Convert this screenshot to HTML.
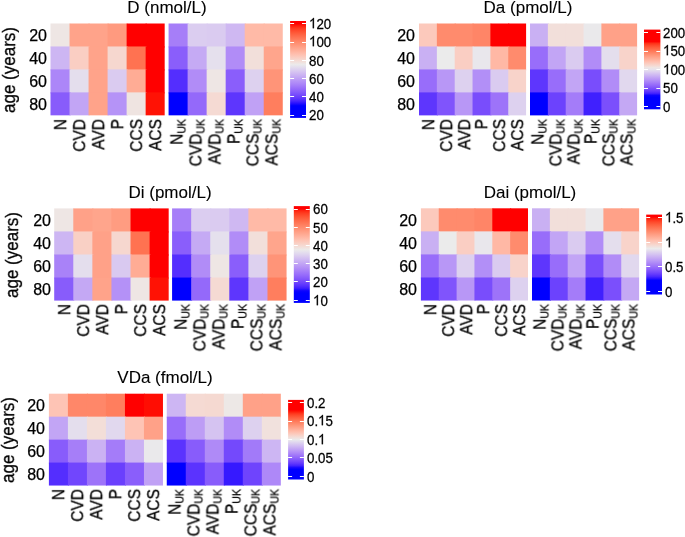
<!DOCTYPE html>
<html><head><meta charset="utf-8"><style>
html,body{margin:0;padding:0;background:#fff;}
body{width:685px;height:537px;position:relative;overflow:hidden;font-family:"Liberation Sans",sans-serif;color:#000;}
svg.main{position:absolute;left:0;top:0;}
.ti,.yt,.ya,.xl,.lg{position:absolute;white-space:nowrap;line-height:1;will-change:transform;-webkit-text-stroke:0.25px #000;}
.ti{font-size:17px;-webkit-text-stroke:0.1px #000;transform:translate(-50%,-0.845em);}
.yt{font-size:16px;transform:translate(-100%,-50%);}
.ya{font-size:17px;transform-origin:0 0;transform:rotate(-90deg) scale(1,1.1) translate(-50%,-0.845em);}
.xl{font-size:15.5px;transform-origin:0 0;transform:rotate(-90deg) scale(1,1.12) translate(-100%,-50%);}
.xs{transform:rotate(-90deg) scale(1,1.12) translate(-100%,-60%);}
.sb{font-size:0.68em;position:relative;top:3px;}
.one{width:0.556em;height:0.716em;vertical-align:baseline;overflow:visible;}
.one path{fill:#000;stroke:#000;stroke-width:19;}
.lg{font-size:13.3px;transform:translate(0,-50%) scale(1,1.08);}
</style></head><body>
<svg class="main" width="685" height="537" viewBox="0 0 685 537">
<rect x="50.5" y="23.5" width="20.03" height="23.96" fill="#eee6e4"/>
<rect x="69.53" y="23.5" width="20.03" height="23.96" fill="#ffa38a"/>
<rect x="88.56" y="23.5" width="20.03" height="23.96" fill="#ffa38a"/>
<rect x="107.59" y="23.5" width="20.03" height="23.96" fill="#ff9a7f"/>
<rect x="126.62" y="23.5" width="20.03" height="23.96" fill="#ff0000"/>
<rect x="145.65" y="23.5" width="19.03" height="23.96" fill="#ff0000"/>
<rect x="168.58" y="23.5" width="20.03" height="23.96" fill="#a67ef8"/>
<rect x="187.61" y="23.5" width="20.03" height="23.96" fill="#dbcdf0"/>
<rect x="206.64" y="23.5" width="20.03" height="23.96" fill="#dacbf0"/>
<rect x="225.67" y="23.5" width="20.03" height="23.96" fill="#cfb8f2"/>
<rect x="244.7" y="23.5" width="20.03" height="23.96" fill="#ffbaa7"/>
<rect x="263.73" y="23.5" width="19.03" height="23.96" fill="#ffbaa7"/>
<rect x="50.5" y="46.46" width="20.03" height="23.96" fill="#cdb6f3"/>
<rect x="69.53" y="46.46" width="20.03" height="23.96" fill="#facec3"/>
<rect x="88.56" y="46.46" width="20.03" height="23.96" fill="#ffa38a"/>
<rect x="107.59" y="46.46" width="20.03" height="23.96" fill="#f6d7cf"/>
<rect x="126.62" y="46.46" width="20.03" height="23.96" fill="#ff7251"/>
<rect x="145.65" y="46.46" width="19.03" height="23.96" fill="#ff0000"/>
<rect x="168.58" y="46.46" width="20.03" height="23.96" fill="#8a5efb"/>
<rect x="187.61" y="46.46" width="20.03" height="23.96" fill="#c5aaf4"/>
<rect x="206.64" y="46.46" width="20.03" height="23.96" fill="#e5e0ed"/>
<rect x="225.67" y="46.46" width="20.03" height="23.96" fill="#b18cf7"/>
<rect x="244.7" y="46.46" width="20.03" height="23.96" fill="#f2dfda"/>
<rect x="263.73" y="46.46" width="19.03" height="23.96" fill="#ffa58c"/>
<rect x="50.5" y="69.42" width="20.03" height="23.96" fill="#ac86f8"/>
<rect x="69.53" y="69.42" width="20.03" height="23.96" fill="#e4deed"/>
<rect x="88.56" y="69.42" width="20.03" height="23.96" fill="#ffa38a"/>
<rect x="107.59" y="69.42" width="20.03" height="23.96" fill="#dacbf0"/>
<rect x="126.62" y="69.42" width="20.03" height="23.96" fill="#ffac95"/>
<rect x="145.65" y="69.42" width="19.03" height="23.96" fill="#ff0000"/>
<rect x="168.58" y="69.42" width="20.03" height="23.96" fill="#542efe"/>
<rect x="187.61" y="69.42" width="20.03" height="23.96" fill="#b18cf7"/>
<rect x="206.64" y="69.42" width="20.03" height="23.96" fill="#eee6e4"/>
<rect x="225.67" y="69.42" width="20.03" height="23.96" fill="#8a5efb"/>
<rect x="244.7" y="69.42" width="20.03" height="23.96" fill="#ddd1ef"/>
<rect x="263.73" y="69.42" width="19.03" height="23.96" fill="#ff9478"/>
<rect x="50.5" y="92.38" width="20.03" height="22.96" fill="#885cfb"/>
<rect x="69.53" y="92.38" width="20.03" height="22.96" fill="#c2a5f5"/>
<rect x="88.56" y="92.38" width="20.03" height="22.96" fill="#ffa38a"/>
<rect x="107.59" y="92.38" width="20.03" height="22.96" fill="#b593f7"/>
<rect x="126.62" y="92.38" width="20.03" height="22.96" fill="#efe4e1"/>
<rect x="145.65" y="92.38" width="19.03" height="22.96" fill="#ff1205"/>
<rect x="168.58" y="92.38" width="20.03" height="22.96" fill="#0000ff"/>
<rect x="187.61" y="92.38" width="20.03" height="22.96" fill="#9469fa"/>
<rect x="206.64" y="92.38" width="20.03" height="22.96" fill="#f5dad3"/>
<rect x="225.67" y="92.38" width="20.03" height="22.96" fill="#5e36fd"/>
<rect x="244.7" y="92.38" width="20.03" height="22.96" fill="#c0a1f5"/>
<rect x="263.73" y="92.38" width="19.03" height="22.96" fill="#ff7e5e"/>
<linearGradient id="gD" x1="0" y1="0" x2="0" y2="1"><stop offset="0.000" stop-color="#ff0000"/><stop offset="0.025" stop-color="#ff0000"/><stop offset="0.050" stop-color="#ff1f0d"/><stop offset="0.075" stop-color="#ff391e"/><stop offset="0.100" stop-color="#ff4b2d"/><stop offset="0.125" stop-color="#ff5b3a"/><stop offset="0.150" stop-color="#ff6848"/><stop offset="0.175" stop-color="#ff7555"/><stop offset="0.200" stop-color="#ff8162"/><stop offset="0.225" stop-color="#ff8d6f"/><stop offset="0.250" stop-color="#ff987c"/><stop offset="0.275" stop-color="#ffa38a"/><stop offset="0.300" stop-color="#ffad97"/><stop offset="0.325" stop-color="#ffb8a5"/><stop offset="0.350" stop-color="#fec2b3"/><stop offset="0.375" stop-color="#facdc1"/><stop offset="0.400" stop-color="#f6d7cf"/><stop offset="0.425" stop-color="#f1e1dd"/><stop offset="0.450" stop-color="#ebeaeb"/><stop offset="0.475" stop-color="#e4deed"/><stop offset="0.500" stop-color="#ddd1ef"/><stop offset="0.525" stop-color="#d6c4f1"/><stop offset="0.550" stop-color="#ceb7f2"/><stop offset="0.575" stop-color="#c6abf4"/><stop offset="0.600" stop-color="#bd9ef5"/><stop offset="0.625" stop-color="#b491f7"/><stop offset="0.650" stop-color="#ab85f8"/><stop offset="0.675" stop-color="#a178f9"/><stop offset="0.700" stop-color="#966bfa"/><stop offset="0.725" stop-color="#8a5ffb"/><stop offset="0.750" stop-color="#7d52fc"/><stop offset="0.775" stop-color="#6f44fd"/><stop offset="0.800" stop-color="#5e36fd"/><stop offset="0.825" stop-color="#4826fe"/><stop offset="0.850" stop-color="#2710ff"/><stop offset="0.875" stop-color="#0000ff"/><stop offset="0.900" stop-color="#0000ff"/><stop offset="0.925" stop-color="#0000ff"/><stop offset="0.950" stop-color="#0000ff"/><stop offset="0.975" stop-color="#0000ff"/><stop offset="1.000" stop-color="#0000ff"/></linearGradient>
<rect x="290.1" y="21" width="15.9" height="96.9" fill="url(#gD)"/>
<line x1="290.1" y1="23.5" x2="294.1" y2="23.5" stroke="#fff" stroke-width="1"/>
<line x1="302" y1="23.5" x2="306" y2="23.5" stroke="#fff" stroke-width="1"/>
<line x1="290.1" y1="42.5" x2="294.1" y2="42.5" stroke="#fff" stroke-width="1"/>
<line x1="302" y1="42.5" x2="306" y2="42.5" stroke="#fff" stroke-width="1"/>
<line x1="290.1" y1="60.5" x2="294.1" y2="60.5" stroke="#fff" stroke-width="1"/>
<line x1="302" y1="60.5" x2="306" y2="60.5" stroke="#fff" stroke-width="1"/>
<line x1="290.1" y1="78.5" x2="294.1" y2="78.5" stroke="#fff" stroke-width="1"/>
<line x1="302" y1="78.5" x2="306" y2="78.5" stroke="#fff" stroke-width="1"/>
<line x1="290.1" y1="96.5" x2="294.1" y2="96.5" stroke="#fff" stroke-width="1"/>
<line x1="302" y1="96.5" x2="306" y2="96.5" stroke="#fff" stroke-width="1"/>
<line x1="290.1" y1="115.5" x2="294.1" y2="115.5" stroke="#fff" stroke-width="1"/>
<line x1="302" y1="115.5" x2="306" y2="115.5" stroke="#fff" stroke-width="1"/>
<rect x="419" y="23.5" width="18.85" height="23.97" fill="#fcc9bc"/>
<rect x="436.85" y="23.5" width="18.85" height="23.97" fill="#ff8b6d"/>
<rect x="454.7" y="23.5" width="18.85" height="23.97" fill="#ff8b6d"/>
<rect x="472.55" y="23.5" width="18.85" height="23.97" fill="#ff8567"/>
<rect x="490.4" y="23.5" width="18.85" height="23.97" fill="#ff0000"/>
<rect x="508.25" y="23.5" width="17.85" height="23.97" fill="#ff0000"/>
<rect x="530" y="23.5" width="18.85" height="23.97" fill="#c9b0f3"/>
<rect x="547.85" y="23.5" width="18.85" height="23.97" fill="#f2dfda"/>
<rect x="565.7" y="23.5" width="18.85" height="23.97" fill="#f2dfda"/>
<rect x="583.55" y="23.5" width="18.85" height="23.97" fill="#eae9eb"/>
<rect x="601.4" y="23.5" width="18.85" height="23.97" fill="#ffa188"/>
<rect x="619.25" y="23.5" width="17.85" height="23.97" fill="#ffa188"/>
<rect x="419" y="46.47" width="18.85" height="23.97" fill="#c9b0f3"/>
<rect x="436.85" y="46.47" width="18.85" height="23.97" fill="#ebebeb"/>
<rect x="454.7" y="46.47" width="18.85" height="23.97" fill="#facec3"/>
<rect x="472.55" y="46.47" width="18.85" height="23.97" fill="#e9e7ec"/>
<rect x="490.4" y="46.47" width="18.85" height="23.97" fill="#ffb8a5"/>
<rect x="508.25" y="46.47" width="17.85" height="23.97" fill="#ff8b6d"/>
<rect x="530" y="46.47" width="18.85" height="23.97" fill="#986dfa"/>
<rect x="547.85" y="46.47" width="18.85" height="23.97" fill="#c2a5f5"/>
<rect x="565.7" y="46.47" width="18.85" height="23.97" fill="#dacbf0"/>
<rect x="583.55" y="46.47" width="18.85" height="23.97" fill="#b18cf7"/>
<rect x="601.4" y="46.47" width="18.85" height="23.97" fill="#e4deed"/>
<rect x="619.25" y="46.47" width="17.85" height="23.97" fill="#f8d3ca"/>
<rect x="419" y="69.44" width="18.85" height="23.97" fill="#986dfa"/>
<rect x="436.85" y="69.44" width="18.85" height="23.97" fill="#b897f6"/>
<rect x="454.7" y="69.44" width="18.85" height="23.97" fill="#ddd1ef"/>
<rect x="472.55" y="69.44" width="18.85" height="23.97" fill="#b28ff7"/>
<rect x="490.4" y="69.44" width="18.85" height="23.97" fill="#dacbf0"/>
<rect x="508.25" y="69.44" width="17.85" height="23.97" fill="#f8d3ca"/>
<rect x="530" y="69.44" width="18.85" height="23.97" fill="#5e36fd"/>
<rect x="547.85" y="69.44" width="18.85" height="23.97" fill="#986dfa"/>
<rect x="565.7" y="69.44" width="18.85" height="23.97" fill="#c2a5f5"/>
<rect x="583.55" y="69.44" width="18.85" height="23.97" fill="#794dfc"/>
<rect x="601.4" y="69.44" width="18.85" height="23.97" fill="#b18cf7"/>
<rect x="619.25" y="69.44" width="17.85" height="23.97" fill="#e1d8ee"/>
<rect x="419" y="92.41" width="18.85" height="22.97" fill="#5e36fd"/>
<rect x="436.85" y="92.41" width="18.85" height="22.97" fill="#8054fc"/>
<rect x="454.7" y="92.41" width="18.85" height="22.97" fill="#b897f6"/>
<rect x="472.55" y="92.41" width="18.85" height="22.97" fill="#794dfc"/>
<rect x="490.4" y="92.41" width="18.85" height="22.97" fill="#9d73f9"/>
<rect x="508.25" y="92.41" width="17.85" height="22.97" fill="#ddd1ef"/>
<rect x="530" y="92.41" width="18.85" height="22.97" fill="#0000ff"/>
<rect x="547.85" y="92.41" width="18.85" height="22.97" fill="#6c42fd"/>
<rect x="565.7" y="92.41" width="18.85" height="22.97" fill="#a47cf9"/>
<rect x="583.55" y="92.41" width="18.85" height="22.97" fill="#4020fe"/>
<rect x="601.4" y="92.41" width="18.85" height="22.97" fill="#7b4ffc"/>
<rect x="619.25" y="92.41" width="17.85" height="22.97" fill="#c4a8f4"/>
<linearGradient id="gDa" x1="0" y1="0" x2="0" y2="1"><stop offset="0.000" stop-color="#ff0000"/><stop offset="0.025" stop-color="#ff0000"/><stop offset="0.050" stop-color="#ff0000"/><stop offset="0.075" stop-color="#ff0000"/><stop offset="0.100" stop-color="#ff0000"/><stop offset="0.125" stop-color="#ff0000"/><stop offset="0.150" stop-color="#ff0301"/><stop offset="0.175" stop-color="#ff3319"/><stop offset="0.200" stop-color="#ff4a2c"/><stop offset="0.225" stop-color="#ff5d3c"/><stop offset="0.250" stop-color="#ff6d4c"/><stop offset="0.275" stop-color="#ff7c5c"/><stop offset="0.300" stop-color="#ff8a6c"/><stop offset="0.325" stop-color="#ff987c"/><stop offset="0.350" stop-color="#ffa58d"/><stop offset="0.375" stop-color="#ffb29d"/><stop offset="0.400" stop-color="#ffbfae"/><stop offset="0.425" stop-color="#fbccbf"/><stop offset="0.450" stop-color="#f6d8d0"/><stop offset="0.475" stop-color="#efe5e2"/><stop offset="0.500" stop-color="#e7e3ec"/><stop offset="0.525" stop-color="#dfd4ef"/><stop offset="0.550" stop-color="#d6c4f1"/><stop offset="0.575" stop-color="#ccb5f3"/><stop offset="0.600" stop-color="#c2a5f5"/><stop offset="0.625" stop-color="#b896f6"/><stop offset="0.650" stop-color="#ac87f8"/><stop offset="0.675" stop-color="#a077f9"/><stop offset="0.700" stop-color="#9368fa"/><stop offset="0.725" stop-color="#8458fb"/><stop offset="0.750" stop-color="#7348fc"/><stop offset="0.775" stop-color="#5f37fd"/><stop offset="0.800" stop-color="#4423fe"/><stop offset="0.825" stop-color="#0d03ff"/><stop offset="0.850" stop-color="#0000ff"/><stop offset="0.875" stop-color="#0000ff"/><stop offset="0.900" stop-color="#0000ff"/><stop offset="0.925" stop-color="#0000ff"/><stop offset="0.950" stop-color="#0000ff"/><stop offset="0.975" stop-color="#0000ff"/><stop offset="1.000" stop-color="#0000ff"/></linearGradient>
<rect x="644" y="29.6" width="16.4" height="79.7" fill="url(#gDa)"/>
<line x1="644" y1="32.5" x2="648" y2="32.5" stroke="#fff" stroke-width="1"/>
<line x1="656.4" y1="32.5" x2="660.4" y2="32.5" stroke="#fff" stroke-width="1"/>
<line x1="644" y1="51.5" x2="648" y2="51.5" stroke="#fff" stroke-width="1"/>
<line x1="656.4" y1="51.5" x2="660.4" y2="51.5" stroke="#fff" stroke-width="1"/>
<line x1="644" y1="69.5" x2="648" y2="69.5" stroke="#fff" stroke-width="1"/>
<line x1="656.4" y1="69.5" x2="660.4" y2="69.5" stroke="#fff" stroke-width="1"/>
<line x1="644" y1="88.5" x2="648" y2="88.5" stroke="#fff" stroke-width="1"/>
<line x1="656.4" y1="88.5" x2="660.4" y2="88.5" stroke="#fff" stroke-width="1"/>
<line x1="644" y1="106.5" x2="648" y2="106.5" stroke="#fff" stroke-width="1"/>
<line x1="656.4" y1="106.5" x2="660.4" y2="106.5" stroke="#fff" stroke-width="1"/>
<rect x="54.2" y="208.4" width="20.08" height="24.05" fill="#eee6e4"/>
<rect x="73.28" y="208.4" width="20.08" height="24.05" fill="#ffa188"/>
<rect x="92.36" y="208.4" width="20.08" height="24.05" fill="#ffa58c"/>
<rect x="111.44" y="208.4" width="20.08" height="24.05" fill="#ff9c81"/>
<rect x="130.52" y="208.4" width="20.08" height="24.05" fill="#ff0000"/>
<rect x="149.6" y="208.4" width="19.08" height="24.05" fill="#ff0000"/>
<rect x="172.08" y="208.4" width="20.08" height="24.05" fill="#a67ef8"/>
<rect x="191.16" y="208.4" width="20.08" height="24.05" fill="#dbcdf0"/>
<rect x="210.24" y="208.4" width="20.08" height="24.05" fill="#dacbf0"/>
<rect x="229.32" y="208.4" width="20.08" height="24.05" fill="#cfb8f2"/>
<rect x="248.4" y="208.4" width="20.08" height="24.05" fill="#ffbaa7"/>
<rect x="267.48" y="208.4" width="19.08" height="24.05" fill="#ffbaa7"/>
<rect x="54.2" y="231.45" width="20.08" height="24.05" fill="#cdb6f3"/>
<rect x="73.28" y="231.45" width="20.08" height="24.05" fill="#f9d0c5"/>
<rect x="92.36" y="231.45" width="20.08" height="24.05" fill="#ffa188"/>
<rect x="111.44" y="231.45" width="20.08" height="24.05" fill="#f6d7cf"/>
<rect x="130.52" y="231.45" width="20.08" height="24.05" fill="#ff7251"/>
<rect x="149.6" y="231.45" width="19.08" height="24.05" fill="#ff0000"/>
<rect x="172.08" y="231.45" width="20.08" height="24.05" fill="#8a5efb"/>
<rect x="191.16" y="231.45" width="20.08" height="24.05" fill="#c5aaf4"/>
<rect x="210.24" y="231.45" width="20.08" height="24.05" fill="#e5e0ed"/>
<rect x="229.32" y="231.45" width="20.08" height="24.05" fill="#b18cf7"/>
<rect x="248.4" y="231.45" width="20.08" height="24.05" fill="#f2dfda"/>
<rect x="267.48" y="231.45" width="19.08" height="24.05" fill="#ffa58c"/>
<rect x="54.2" y="254.5" width="20.08" height="24.05" fill="#a982f8"/>
<rect x="73.28" y="254.5" width="20.08" height="24.05" fill="#e4deed"/>
<rect x="92.36" y="254.5" width="20.08" height="24.05" fill="#ffa188"/>
<rect x="111.44" y="254.5" width="20.08" height="24.05" fill="#d9c9f0"/>
<rect x="130.52" y="254.5" width="20.08" height="24.05" fill="#ffac95"/>
<rect x="149.6" y="254.5" width="19.08" height="24.05" fill="#ff0000"/>
<rect x="172.08" y="254.5" width="20.08" height="24.05" fill="#542efe"/>
<rect x="191.16" y="254.5" width="20.08" height="24.05" fill="#b18cf7"/>
<rect x="210.24" y="254.5" width="20.08" height="24.05" fill="#eee6e4"/>
<rect x="229.32" y="254.5" width="20.08" height="24.05" fill="#8a5efb"/>
<rect x="248.4" y="254.5" width="20.08" height="24.05" fill="#ddd1ef"/>
<rect x="267.48" y="254.5" width="19.08" height="24.05" fill="#ff9478"/>
<rect x="54.2" y="277.55" width="20.08" height="23.05" fill="#885cfb"/>
<rect x="73.28" y="277.55" width="20.08" height="23.05" fill="#c4a8f4"/>
<rect x="92.36" y="277.55" width="20.08" height="23.05" fill="#ffa38a"/>
<rect x="111.44" y="277.55" width="20.08" height="23.05" fill="#b491f7"/>
<rect x="130.52" y="277.55" width="20.08" height="23.05" fill="#eee6e4"/>
<rect x="149.6" y="277.55" width="19.08" height="23.05" fill="#ff1205"/>
<rect x="172.08" y="277.55" width="20.08" height="23.05" fill="#0000ff"/>
<rect x="191.16" y="277.55" width="20.08" height="23.05" fill="#9469fa"/>
<rect x="210.24" y="277.55" width="20.08" height="23.05" fill="#f5dad3"/>
<rect x="229.32" y="277.55" width="20.08" height="23.05" fill="#5e36fd"/>
<rect x="248.4" y="277.55" width="20.08" height="23.05" fill="#c0a1f5"/>
<rect x="267.48" y="277.55" width="19.08" height="23.05" fill="#ff7e5e"/>
<linearGradient id="gDi" x1="0" y1="0" x2="0" y2="1"><stop offset="0.000" stop-color="#ff0000"/><stop offset="0.025" stop-color="#ff0000"/><stop offset="0.050" stop-color="#ff2711"/><stop offset="0.075" stop-color="#ff3d21"/><stop offset="0.100" stop-color="#ff4e2f"/><stop offset="0.125" stop-color="#ff5d3c"/><stop offset="0.150" stop-color="#ff6a49"/><stop offset="0.175" stop-color="#ff7656"/><stop offset="0.200" stop-color="#ff8263"/><stop offset="0.225" stop-color="#ff8d70"/><stop offset="0.250" stop-color="#ff987d"/><stop offset="0.275" stop-color="#ffa38a"/><stop offset="0.300" stop-color="#ffad97"/><stop offset="0.325" stop-color="#ffb7a4"/><stop offset="0.350" stop-color="#fec2b2"/><stop offset="0.375" stop-color="#fbccbf"/><stop offset="0.400" stop-color="#f7d6cd"/><stop offset="0.425" stop-color="#f2e0db"/><stop offset="0.450" stop-color="#eceae9"/><stop offset="0.475" stop-color="#e5e0ed"/><stop offset="0.500" stop-color="#dfd4ef"/><stop offset="0.525" stop-color="#d8c7f0"/><stop offset="0.550" stop-color="#d0bbf2"/><stop offset="0.575" stop-color="#c8aef3"/><stop offset="0.600" stop-color="#c0a2f5"/><stop offset="0.625" stop-color="#b896f6"/><stop offset="0.650" stop-color="#af8af7"/><stop offset="0.675" stop-color="#a57df9"/><stop offset="0.700" stop-color="#9b71fa"/><stop offset="0.725" stop-color="#9065fb"/><stop offset="0.750" stop-color="#8458fb"/><stop offset="0.775" stop-color="#774bfc"/><stop offset="0.800" stop-color="#673efd"/><stop offset="0.825" stop-color="#552ffe"/><stop offset="0.850" stop-color="#3d1efe"/><stop offset="0.875" stop-color="#0c03ff"/><stop offset="0.900" stop-color="#0000ff"/><stop offset="0.925" stop-color="#0000ff"/><stop offset="0.950" stop-color="#0000ff"/><stop offset="0.975" stop-color="#0000ff"/><stop offset="1.000" stop-color="#0000ff"/></linearGradient>
<rect x="293.8" y="206.1" width="16" height="96.8" fill="url(#gDi)"/>
<line x1="293.8" y1="209.5" x2="297.8" y2="209.5" stroke="#fff" stroke-width="1"/>
<line x1="305.8" y1="209.5" x2="309.8" y2="209.5" stroke="#fff" stroke-width="1"/>
<line x1="293.8" y1="227.5" x2="297.8" y2="227.5" stroke="#fff" stroke-width="1"/>
<line x1="305.8" y1="227.5" x2="309.8" y2="227.5" stroke="#fff" stroke-width="1"/>
<line x1="293.8" y1="245.5" x2="297.8" y2="245.5" stroke="#fff" stroke-width="1"/>
<line x1="305.8" y1="245.5" x2="309.8" y2="245.5" stroke="#fff" stroke-width="1"/>
<line x1="293.8" y1="263.5" x2="297.8" y2="263.5" stroke="#fff" stroke-width="1"/>
<line x1="305.8" y1="263.5" x2="309.8" y2="263.5" stroke="#fff" stroke-width="1"/>
<line x1="293.8" y1="281.5" x2="297.8" y2="281.5" stroke="#fff" stroke-width="1"/>
<line x1="305.8" y1="281.5" x2="309.8" y2="281.5" stroke="#fff" stroke-width="1"/>
<line x1="293.8" y1="300.5" x2="297.8" y2="300.5" stroke="#fff" stroke-width="1"/>
<line x1="305.8" y1="300.5" x2="309.8" y2="300.5" stroke="#fff" stroke-width="1"/>
<rect x="420.9" y="208.3" width="18.85" height="24.06" fill="#fcc9bc"/>
<rect x="438.75" y="208.3" width="18.85" height="24.06" fill="#ff8b6d"/>
<rect x="456.6" y="208.3" width="18.85" height="24.06" fill="#ff8b6d"/>
<rect x="474.45" y="208.3" width="18.85" height="24.06" fill="#ff8567"/>
<rect x="492.3" y="208.3" width="18.85" height="24.06" fill="#ff0000"/>
<rect x="510.15" y="208.3" width="17.85" height="24.06" fill="#ff0000"/>
<rect x="532" y="208.3" width="18.85" height="24.06" fill="#c9b0f3"/>
<rect x="549.85" y="208.3" width="18.85" height="24.06" fill="#f2dfda"/>
<rect x="567.7" y="208.3" width="18.85" height="24.06" fill="#f2dfda"/>
<rect x="585.55" y="208.3" width="18.85" height="24.06" fill="#eae9eb"/>
<rect x="603.4" y="208.3" width="18.85" height="24.06" fill="#ffa188"/>
<rect x="621.25" y="208.3" width="17.85" height="24.06" fill="#ffa188"/>
<rect x="420.9" y="231.36" width="18.85" height="24.06" fill="#c9b0f3"/>
<rect x="438.75" y="231.36" width="18.85" height="24.06" fill="#ebebeb"/>
<rect x="456.6" y="231.36" width="18.85" height="24.06" fill="#facec3"/>
<rect x="474.45" y="231.36" width="18.85" height="24.06" fill="#e9e7ec"/>
<rect x="492.3" y="231.36" width="18.85" height="24.06" fill="#ffb8a5"/>
<rect x="510.15" y="231.36" width="17.85" height="24.06" fill="#ff8b6d"/>
<rect x="532" y="231.36" width="18.85" height="24.06" fill="#986dfa"/>
<rect x="549.85" y="231.36" width="18.85" height="24.06" fill="#c2a5f5"/>
<rect x="567.7" y="231.36" width="18.85" height="24.06" fill="#dacbf0"/>
<rect x="585.55" y="231.36" width="18.85" height="24.06" fill="#b18cf7"/>
<rect x="603.4" y="231.36" width="18.85" height="24.06" fill="#e4deed"/>
<rect x="621.25" y="231.36" width="17.85" height="24.06" fill="#f8d3ca"/>
<rect x="420.9" y="254.42" width="18.85" height="24.06" fill="#986dfa"/>
<rect x="438.75" y="254.42" width="18.85" height="24.06" fill="#b897f6"/>
<rect x="456.6" y="254.42" width="18.85" height="24.06" fill="#ddd1ef"/>
<rect x="474.45" y="254.42" width="18.85" height="24.06" fill="#b28ff7"/>
<rect x="492.3" y="254.42" width="18.85" height="24.06" fill="#dacbf0"/>
<rect x="510.15" y="254.42" width="17.85" height="24.06" fill="#f8d3ca"/>
<rect x="532" y="254.42" width="18.85" height="24.06" fill="#5e36fd"/>
<rect x="549.85" y="254.42" width="18.85" height="24.06" fill="#986dfa"/>
<rect x="567.7" y="254.42" width="18.85" height="24.06" fill="#c2a5f5"/>
<rect x="585.55" y="254.42" width="18.85" height="24.06" fill="#794dfc"/>
<rect x="603.4" y="254.42" width="18.85" height="24.06" fill="#b18cf7"/>
<rect x="621.25" y="254.42" width="17.85" height="24.06" fill="#e1d8ee"/>
<rect x="420.9" y="277.48" width="18.85" height="23.06" fill="#5e36fd"/>
<rect x="438.75" y="277.48" width="18.85" height="23.06" fill="#8054fc"/>
<rect x="456.6" y="277.48" width="18.85" height="23.06" fill="#b897f6"/>
<rect x="474.45" y="277.48" width="18.85" height="23.06" fill="#794dfc"/>
<rect x="492.3" y="277.48" width="18.85" height="23.06" fill="#9d73f9"/>
<rect x="510.15" y="277.48" width="17.85" height="23.06" fill="#ddd1ef"/>
<rect x="532" y="277.48" width="18.85" height="23.06" fill="#0000ff"/>
<rect x="549.85" y="277.48" width="18.85" height="23.06" fill="#6c42fd"/>
<rect x="567.7" y="277.48" width="18.85" height="23.06" fill="#a47cf9"/>
<rect x="585.55" y="277.48" width="18.85" height="23.06" fill="#4020fe"/>
<rect x="603.4" y="277.48" width="18.85" height="23.06" fill="#7b4ffc"/>
<rect x="621.25" y="277.48" width="17.85" height="23.06" fill="#c4a8f4"/>
<linearGradient id="gDai" x1="0" y1="0" x2="0" y2="1"><stop offset="0.000" stop-color="#ff0000"/><stop offset="0.025" stop-color="#ff0000"/><stop offset="0.050" stop-color="#ff200d"/><stop offset="0.075" stop-color="#ff3b20"/><stop offset="0.100" stop-color="#ff4e2f"/><stop offset="0.125" stop-color="#ff5e3d"/><stop offset="0.150" stop-color="#ff6c4b"/><stop offset="0.175" stop-color="#ff7959"/><stop offset="0.200" stop-color="#ff8667"/><stop offset="0.225" stop-color="#ff9275"/><stop offset="0.250" stop-color="#ff9e84"/><stop offset="0.275" stop-color="#ffa992"/><stop offset="0.300" stop-color="#ffb5a0"/><stop offset="0.325" stop-color="#ffc0af"/><stop offset="0.350" stop-color="#fbcbbe"/><stop offset="0.375" stop-color="#f7d6cd"/><stop offset="0.400" stop-color="#f1e0dc"/><stop offset="0.425" stop-color="#ebebeb"/><stop offset="0.450" stop-color="#e4dded"/><stop offset="0.475" stop-color="#dccfef"/><stop offset="0.500" stop-color="#d4c2f1"/><stop offset="0.525" stop-color="#ccb4f3"/><stop offset="0.550" stop-color="#c3a7f4"/><stop offset="0.575" stop-color="#ba99f6"/><stop offset="0.600" stop-color="#b08cf7"/><stop offset="0.625" stop-color="#a67ef8"/><stop offset="0.650" stop-color="#9b71fa"/><stop offset="0.675" stop-color="#8f63fb"/><stop offset="0.700" stop-color="#8256fc"/><stop offset="0.725" stop-color="#7347fc"/><stop offset="0.750" stop-color="#6138fd"/><stop offset="0.775" stop-color="#4b28fe"/><stop offset="0.800" stop-color="#2a12ff"/><stop offset="0.825" stop-color="#0000ff"/><stop offset="0.850" stop-color="#0000ff"/><stop offset="0.875" stop-color="#0000ff"/><stop offset="0.900" stop-color="#0000ff"/><stop offset="0.925" stop-color="#0000ff"/><stop offset="0.950" stop-color="#0000ff"/><stop offset="0.975" stop-color="#0000ff"/><stop offset="1.000" stop-color="#0000ff"/></linearGradient>
<rect x="646.2" y="214.6" width="15.8" height="79.9" fill="url(#gDai)"/>
<line x1="646.2" y1="217.5" x2="650.2" y2="217.5" stroke="#fff" stroke-width="1"/>
<line x1="658" y1="217.5" x2="662" y2="217.5" stroke="#fff" stroke-width="1"/>
<line x1="646.2" y1="242.5" x2="650.2" y2="242.5" stroke="#fff" stroke-width="1"/>
<line x1="658" y1="242.5" x2="662" y2="242.5" stroke="#fff" stroke-width="1"/>
<line x1="646.2" y1="266.5" x2="650.2" y2="266.5" stroke="#fff" stroke-width="1"/>
<line x1="658" y1="266.5" x2="662" y2="266.5" stroke="#fff" stroke-width="1"/>
<line x1="646.2" y1="291.5" x2="650.2" y2="291.5" stroke="#fff" stroke-width="1"/>
<line x1="658" y1="291.5" x2="662" y2="291.5" stroke="#fff" stroke-width="1"/>
<rect x="48.9" y="393.7" width="20.01" height="23.96" fill="#fec4b5"/>
<rect x="67.91" y="393.7" width="20.01" height="23.96" fill="#ff8769"/>
<rect x="86.92" y="393.7" width="20.01" height="23.96" fill="#ff8769"/>
<rect x="105.93" y="393.7" width="20.01" height="23.96" fill="#ff7e5e"/>
<rect x="124.94" y="393.7" width="20.01" height="23.96" fill="#ff0000"/>
<rect x="143.95" y="393.7" width="19.01" height="23.96" fill="#ff0d03"/>
<rect x="166.76" y="393.7" width="20.01" height="23.96" fill="#cdb6f3"/>
<rect x="185.77" y="393.7" width="20.01" height="23.96" fill="#f5dad3"/>
<rect x="204.78" y="393.7" width="20.01" height="23.96" fill="#f5d9d1"/>
<rect x="223.79" y="393.7" width="20.01" height="23.96" fill="#ede8e6"/>
<rect x="242.8" y="393.7" width="20.01" height="23.96" fill="#ffa188"/>
<rect x="261.81" y="393.7" width="19.01" height="23.96" fill="#ffa188"/>
<rect x="48.9" y="416.66" width="20.01" height="23.96" fill="#c2a5f5"/>
<rect x="67.91" y="416.66" width="20.01" height="23.96" fill="#e4deed"/>
<rect x="86.92" y="416.66" width="20.01" height="23.96" fill="#f3ded8"/>
<rect x="105.93" y="416.66" width="20.01" height="23.96" fill="#e1d8ee"/>
<rect x="124.94" y="416.66" width="20.01" height="23.96" fill="#fec4b5"/>
<rect x="143.95" y="416.66" width="19.01" height="23.96" fill="#ffa188"/>
<rect x="166.76" y="416.66" width="20.01" height="23.96" fill="#986dfa"/>
<rect x="185.77" y="416.66" width="20.01" height="23.96" fill="#bd9df5"/>
<rect x="204.78" y="416.66" width="20.01" height="23.96" fill="#d5c3f1"/>
<rect x="223.79" y="416.66" width="20.01" height="23.96" fill="#b18cf7"/>
<rect x="242.8" y="416.66" width="20.01" height="23.96" fill="#ddd1ef"/>
<rect x="261.81" y="416.66" width="19.01" height="23.96" fill="#f1e1dd"/>
<rect x="48.9" y="439.62" width="20.01" height="23.96" fill="#885cfb"/>
<rect x="67.91" y="439.62" width="20.01" height="23.96" fill="#a67ef8"/>
<rect x="86.92" y="439.62" width="20.01" height="23.96" fill="#cbb2f3"/>
<rect x="105.93" y="439.62" width="20.01" height="23.96" fill="#a47cf9"/>
<rect x="124.94" y="439.62" width="20.01" height="23.96" fill="#cbb2f3"/>
<rect x="143.95" y="439.62" width="19.01" height="23.96" fill="#eae9eb"/>
<rect x="166.76" y="439.62" width="20.01" height="23.96" fill="#5b33fe"/>
<rect x="185.77" y="439.62" width="20.01" height="23.96" fill="#885cfb"/>
<rect x="204.78" y="439.62" width="20.01" height="23.96" fill="#af8af7"/>
<rect x="223.79" y="439.62" width="20.01" height="23.96" fill="#7449fc"/>
<rect x="242.8" y="439.62" width="20.01" height="23.96" fill="#a27af9"/>
<rect x="261.81" y="439.62" width="19.01" height="23.96" fill="#cdb6f3"/>
<rect x="48.9" y="462.58" width="20.01" height="22.96" fill="#542efe"/>
<rect x="67.91" y="462.58" width="20.01" height="22.96" fill="#7146fd"/>
<rect x="86.92" y="462.58" width="20.01" height="22.96" fill="#9d73f9"/>
<rect x="105.93" y="462.58" width="20.01" height="22.96" fill="#6a3ffd"/>
<rect x="124.94" y="462.58" width="20.01" height="22.96" fill="#8a5efb"/>
<rect x="143.95" y="462.58" width="19.01" height="22.96" fill="#c0a1f5"/>
<rect x="166.76" y="462.58" width="20.01" height="22.96" fill="#0000ff"/>
<rect x="185.77" y="462.58" width="20.01" height="22.96" fill="#5b33fe"/>
<rect x="204.78" y="462.58" width="20.01" height="22.96" fill="#885cfb"/>
<rect x="223.79" y="462.58" width="20.01" height="22.96" fill="#3619ff"/>
<rect x="242.8" y="462.58" width="20.01" height="22.96" fill="#6f44fd"/>
<rect x="261.81" y="462.58" width="19.01" height="22.96" fill="#ae88f8"/>
<linearGradient id="gVDa" x1="0" y1="0" x2="0" y2="1"><stop offset="0.000" stop-color="#ff0000"/><stop offset="0.025" stop-color="#ff0000"/><stop offset="0.050" stop-color="#ff0000"/><stop offset="0.075" stop-color="#ff0000"/><stop offset="0.100" stop-color="#ff0000"/><stop offset="0.125" stop-color="#ff0000"/><stop offset="0.150" stop-color="#ff1d0b"/><stop offset="0.175" stop-color="#ff3b20"/><stop offset="0.200" stop-color="#ff4f30"/><stop offset="0.225" stop-color="#ff6040"/><stop offset="0.250" stop-color="#ff6f4f"/><stop offset="0.275" stop-color="#ff7d5e"/><stop offset="0.300" stop-color="#ff8b6d"/><stop offset="0.325" stop-color="#ff987c"/><stop offset="0.350" stop-color="#ffa48c"/><stop offset="0.375" stop-color="#ffb19c"/><stop offset="0.400" stop-color="#ffbdab"/><stop offset="0.425" stop-color="#fcc9bb"/><stop offset="0.450" stop-color="#f7d5cc"/><stop offset="0.475" stop-color="#f1e0dc"/><stop offset="0.500" stop-color="#eaeaeb"/><stop offset="0.525" stop-color="#e2dbee"/><stop offset="0.550" stop-color="#daccf0"/><stop offset="0.575" stop-color="#d2bdf2"/><stop offset="0.600" stop-color="#c8aff3"/><stop offset="0.625" stop-color="#bfa0f5"/><stop offset="0.650" stop-color="#b591f7"/><stop offset="0.675" stop-color="#aa83f8"/><stop offset="0.700" stop-color="#9e74f9"/><stop offset="0.725" stop-color="#9166fa"/><stop offset="0.750" stop-color="#8357fc"/><stop offset="0.775" stop-color="#7347fc"/><stop offset="0.800" stop-color="#6037fd"/><stop offset="0.825" stop-color="#4725fe"/><stop offset="0.850" stop-color="#1b09ff"/><stop offset="0.875" stop-color="#0000ff"/><stop offset="0.900" stop-color="#0000ff"/><stop offset="0.925" stop-color="#0000ff"/><stop offset="0.950" stop-color="#0000ff"/><stop offset="0.975" stop-color="#0000ff"/><stop offset="1.000" stop-color="#0000ff"/></linearGradient>
<rect x="288.1" y="399.9" width="15.8" height="79.6" fill="url(#gVDa)"/>
<line x1="288.1" y1="402.5" x2="292.1" y2="402.5" stroke="#fff" stroke-width="1"/>
<line x1="299.9" y1="402.5" x2="303.9" y2="402.5" stroke="#fff" stroke-width="1"/>
<line x1="288.1" y1="421.5" x2="292.1" y2="421.5" stroke="#fff" stroke-width="1"/>
<line x1="299.9" y1="421.5" x2="303.9" y2="421.5" stroke="#fff" stroke-width="1"/>
<line x1="288.1" y1="439.5" x2="292.1" y2="439.5" stroke="#fff" stroke-width="1"/>
<line x1="299.9" y1="439.5" x2="303.9" y2="439.5" stroke="#fff" stroke-width="1"/>
<line x1="288.1" y1="457.5" x2="292.1" y2="457.5" stroke="#fff" stroke-width="1"/>
<line x1="299.9" y1="457.5" x2="303.9" y2="457.5" stroke="#fff" stroke-width="1"/>
<line x1="288.1" y1="476.5" x2="292.1" y2="476.5" stroke="#fff" stroke-width="1"/>
<line x1="299.9" y1="476.5" x2="303.9" y2="476.5" stroke="#fff" stroke-width="1"/>
</svg>
<div class="lg" style="left:309px;top:24.2px"><svg class="one" viewBox="0 -716 556 716"><path d="M372 0L284 0L284-561Q252-531 200-500Q148-470 107-455L107-540Q180-574 235-623Q290-672 313-716L372-716Z"/></svg>20</div>
<div class="lg" style="left:309px;top:42.4px"><svg class="one" viewBox="0 -716 556 716"><path d="M372 0L284 0L284-561Q252-531 200-500Q148-470 107-455L107-540Q180-574 235-623Q290-672 313-716L372-716Z"/></svg>00</div>
<div class="lg" style="left:309px;top:60.7px">80</div>
<div class="lg" style="left:309px;top:78.9px">60</div>
<div class="lg" style="left:309px;top:97.2px">40</div>
<div class="lg" style="left:309px;top:115.4px">20</div>
<div class="ti" style="left:166.63px;top:12.7px">D (nmol/L)</div>
<div class="yt" style="left:46.9px;top:35.78px">20</div>
<div class="yt" style="left:46.9px;top:58.74px">40</div>
<div class="yt" style="left:46.9px;top:81.7px">60</div>
<div class="yt" style="left:46.9px;top:104.66px">80</div>
<div class="ya" style="left:15.3px;top:70.22px">age (years)</div>
<div class="xl" style="left:60.02px;top:119px">N</div>
<div class="xl" style="left:79.05px;top:119px">CVD</div>
<div class="xl" style="left:98.08px;top:119px">AVD</div>
<div class="xl" style="left:117.11px;top:119px">P</div>
<div class="xl" style="left:136.13px;top:119px">CCS</div>
<div class="xl" style="left:155.17px;top:119px">ACS</div>
<div class="xl xs" style="left:178.1px;top:119px">N<span class="sb">UK</span></div>
<div class="xl xs" style="left:197.12px;top:119px">CVD<span class="sb">UK</span></div>
<div class="xl xs" style="left:216.16px;top:119px">AVD<span class="sb">UK</span></div>
<div class="xl xs" style="left:235.19px;top:119px">P<span class="sb">UK</span></div>
<div class="xl xs" style="left:254.22px;top:119px">CCS<span class="sb">UK</span></div>
<div class="xl xs" style="left:273.25px;top:119px">ACS<span class="sb">UK</span></div>
<div class="lg" style="left:663.4px;top:32.9px">200</div>
<div class="lg" style="left:663.4px;top:51.4px"><svg class="one" viewBox="0 -716 556 716"><path d="M372 0L284 0L284-561Q252-531 200-500Q148-470 107-455L107-540Q180-574 235-623Q290-672 313-716L372-716Z"/></svg>50</div>
<div class="lg" style="left:663.4px;top:69.9px"><svg class="one" viewBox="0 -716 556 716"><path d="M372 0L284 0L284-561Q252-531 200-500Q148-470 107-455L107-540Q180-574 235-623Q290-672 313-716L372-716Z"/></svg>00</div>
<div class="lg" style="left:663.4px;top:88.4px">50</div>
<div class="lg" style="left:663.4px;top:106.9px">0</div>
<div class="ti" style="left:528.05px;top:12.7px">Da (pmol/L)</div>
<div class="yt" style="left:415.4px;top:35.78px">20</div>
<div class="yt" style="left:415.4px;top:58.75px">40</div>
<div class="yt" style="left:415.4px;top:81.72px">60</div>
<div class="yt" style="left:415.4px;top:104.69px">80</div>
<div class="xl" style="left:427.93px;top:119px">N</div>
<div class="xl" style="left:445.78px;top:119px">CVD</div>
<div class="xl" style="left:463.62px;top:119px">AVD</div>
<div class="xl" style="left:481.48px;top:119px">P</div>
<div class="xl" style="left:499.32px;top:119px">CCS</div>
<div class="xl" style="left:517.17px;top:119px">ACS</div>
<div class="xl xs" style="left:538.92px;top:119px">N<span class="sb">UK</span></div>
<div class="xl xs" style="left:556.77px;top:119px">CVD<span class="sb">UK</span></div>
<div class="xl xs" style="left:574.62px;top:119px">AVD<span class="sb">UK</span></div>
<div class="xl xs" style="left:592.47px;top:119px">P<span class="sb">UK</span></div>
<div class="xl xs" style="left:610.32px;top:119px">CCS<span class="sb">UK</span></div>
<div class="xl xs" style="left:628.17px;top:119px">ACS<span class="sb">UK</span></div>
<div class="lg" style="left:312.8px;top:209.4px">60</div>
<div class="lg" style="left:312.8px;top:227.6px">50</div>
<div class="lg" style="left:312.8px;top:245.8px">40</div>
<div class="lg" style="left:312.8px;top:264px">30</div>
<div class="lg" style="left:312.8px;top:282.3px">20</div>
<div class="lg" style="left:312.8px;top:300.5px"><svg class="one" viewBox="0 -716 556 716"><path d="M372 0L284 0L284-561Q252-531 200-500Q148-470 107-455L107-540Q180-574 235-623Q290-672 313-716L372-716Z"/></svg>0</div>
<div class="ti" style="left:170.38px;top:197.9px">Di (pmol/L)</div>
<div class="yt" style="left:50.6px;top:220.73px">20</div>
<div class="yt" style="left:50.6px;top:243.78px">40</div>
<div class="yt" style="left:50.6px;top:266.82px">60</div>
<div class="yt" style="left:50.6px;top:289.88px">80</div>
<div class="ya" style="left:18px;top:255.3px">age (years)</div>
<div class="xl" style="left:63.74px;top:304.4px">N</div>
<div class="xl" style="left:82.82px;top:304.4px">CVD</div>
<div class="xl" style="left:101.9px;top:304.4px">AVD</div>
<div class="xl" style="left:120.98px;top:304.4px">P</div>
<div class="xl" style="left:140.06px;top:304.4px">CCS</div>
<div class="xl" style="left:159.14px;top:304.4px">ACS</div>
<div class="xl xs" style="left:181.62px;top:304.4px">N<span class="sb">UK</span></div>
<div class="xl xs" style="left:200.7px;top:304.4px">CVD<span class="sb">UK</span></div>
<div class="xl xs" style="left:219.78px;top:304.4px">AVD<span class="sb">UK</span></div>
<div class="xl xs" style="left:238.86px;top:304.4px">P<span class="sb">UK</span></div>
<div class="xl xs" style="left:257.94px;top:304.4px">CCS<span class="sb">UK</span></div>
<div class="xl xs" style="left:277.02px;top:304.4px">ACS<span class="sb">UK</span></div>
<div class="lg" style="left:665px;top:218px"><svg class="one" viewBox="0 -716 556 716"><path d="M372 0L284 0L284-561Q252-531 200-500Q148-470 107-455L107-540Q180-574 235-623Q290-672 313-716L372-716Z"/></svg>.5</div>
<div class="lg" style="left:665px;top:242.6px"><svg class="one" viewBox="0 -716 556 716"><path d="M372 0L284 0L284-561Q252-531 200-500Q148-470 107-455L107-540Q180-574 235-623Q290-672 313-716L372-716Z"/></svg></div>
<div class="lg" style="left:665px;top:267.3px">0.5</div>
<div class="lg" style="left:665px;top:291.9px">0</div>
<div class="ti" style="left:530px;top:197.9px">Dai (pmol/L)</div>
<div class="yt" style="left:417.3px;top:220.63px">20</div>
<div class="yt" style="left:417.3px;top:243.69px">40</div>
<div class="yt" style="left:417.3px;top:266.75px">60</div>
<div class="yt" style="left:417.3px;top:289.81px">80</div>
<div class="xl" style="left:429.82px;top:304.1px">N</div>
<div class="xl" style="left:447.68px;top:304.1px">CVD</div>
<div class="xl" style="left:465.52px;top:304.1px">AVD</div>
<div class="xl" style="left:483.38px;top:304.1px">P</div>
<div class="xl" style="left:501.22px;top:304.1px">CCS</div>
<div class="xl" style="left:519.07px;top:304.1px">ACS</div>
<div class="xl xs" style="left:540.92px;top:304.1px">N<span class="sb">UK</span></div>
<div class="xl xs" style="left:558.77px;top:304.1px">CVD<span class="sb">UK</span></div>
<div class="xl xs" style="left:576.62px;top:304.1px">AVD<span class="sb">UK</span></div>
<div class="xl xs" style="left:594.47px;top:304.1px">P<span class="sb">UK</span></div>
<div class="xl xs" style="left:612.32px;top:304.1px">CCS<span class="sb">UK</span></div>
<div class="xl xs" style="left:630.17px;top:304.1px">ACS<span class="sb">UK</span></div>
<div class="lg" style="left:306.9px;top:402.9px">0.2</div>
<div class="lg" style="left:306.9px;top:421.4px">0.<svg class="one" viewBox="0 -716 556 716"><path d="M372 0L284 0L284-561Q252-531 200-500Q148-470 107-455L107-540Q180-574 235-623Q290-672 313-716L372-716Z"/></svg>5</div>
<div class="lg" style="left:306.9px;top:439.8px">0.<svg class="one" viewBox="0 -716 556 716"><path d="M372 0L284 0L284-561Q252-531 200-500Q148-470 107-455L107-540Q180-574 235-623Q290-672 313-716L372-716Z"/></svg></div>
<div class="lg" style="left:306.9px;top:458.2px">0.05</div>
<div class="lg" style="left:306.9px;top:476.7px">0</div>
<div class="ti" style="left:164.86px;top:382.8px">VDa (fmol/L)</div>
<div class="yt" style="left:45.3px;top:405.98px">20</div>
<div class="yt" style="left:45.3px;top:428.94px">40</div>
<div class="yt" style="left:45.3px;top:451.9px">60</div>
<div class="yt" style="left:45.3px;top:474.86px">80</div>
<div class="ya" style="left:14px;top:440.42px">age (years)</div>
<div class="xl" style="left:58.41px;top:489.3px">N</div>
<div class="xl" style="left:77.41px;top:489.3px">CVD</div>
<div class="xl" style="left:96.42px;top:489.3px">AVD</div>
<div class="xl" style="left:115.44px;top:489.3px">P</div>
<div class="xl" style="left:134.44px;top:489.3px">CCS</div>
<div class="xl" style="left:153.46px;top:489.3px">ACS</div>
<div class="xl xs" style="left:176.27px;top:489.3px">N<span class="sb">UK</span></div>
<div class="xl xs" style="left:195.28px;top:489.3px">CVD<span class="sb">UK</span></div>
<div class="xl xs" style="left:214.29px;top:489.3px">AVD<span class="sb">UK</span></div>
<div class="xl xs" style="left:233.3px;top:489.3px">P<span class="sb">UK</span></div>
<div class="xl xs" style="left:252.31px;top:489.3px">CCS<span class="sb">UK</span></div>
<div class="xl xs" style="left:271.31px;top:489.3px">ACS<span class="sb">UK</span></div>
</body></html>
